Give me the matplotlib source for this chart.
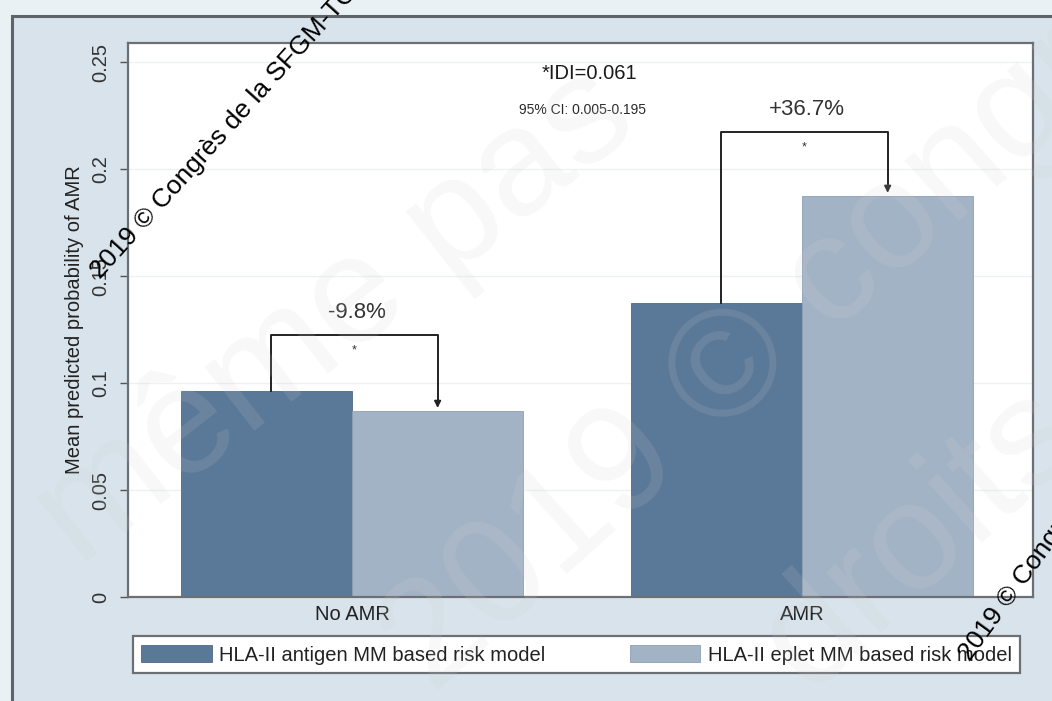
import matplotlib.pyplot as plt
from matplotlib.patches import Rectangle

plt.rcParams['font.family'] = ['Liberation Sans', 'DejaVu Sans']

groups = ['No AMR', 'AMR']
antigen_model = [0.0965, 0.1372]
eplet_change = [-9.8, 36.7]
eplet_model = [a * (1 + c / 100) for a, c in zip(antigen_model, eplet_change)]
series_names = ['HLA-II antigen MM based risk model', 'HLA-II eplet MM based risk model']
bracket_top = [0.1224, 0.2172]
yticks = [0, 0.05, 0.1, 0.15, 0.2, 0.25]
ytick_labels = ['0', '0.05', '0.1', '0.15', '0.2', '0.25']

dark = '#5a7898'
light = '#a3b3c6'
outer_bg = '#eaf1f5'
inner_bg = '#d8e3ec'

fig = plt.figure(figsize=(10.52, 7.01), dpi=100)
fig.patch.set_facecolor(outer_bg)

# graph region frame (Stata style)
fig.patches.append(Rectangle((12 / 1052, -0.02), 1.05, 1 - 16 / 701 + 0.02,
                             transform=fig.transFigure, facecolor=inner_bg,
                             edgecolor='#5f6468', linewidth=2.2, zorder=-5))

ax = fig.add_axes([128 / 1052, 1 - 597 / 701, 905 / 1052, 554 / 701])
ax.set_facecolor('white')
ax.set_ylim(0, 0.2589)
ax.set_xlim(-0.498, 1.513)

for y in yticks[1:]:
    ax.axhline(y, color='#eef0f2', linewidth=1.0, zorder=0)

w = 0.38
xs = range(len(groups))
ax.bar([x - w / 2 for x in xs], antigen_model, width=w, color=dark,
       edgecolor='#4d6986', linewidth=0.6, label=series_names[0], zorder=2)
ax.bar([x + w / 2 for x in xs], eplet_model, width=w, color=light,
       edgecolor='#8d9fb4', linewidth=0.6, label=series_names[1], zorder=2)

# change brackets between the two models
for x, a, e, top, c in zip(xs, antigen_model, eplet_model, bracket_top, eplet_change):
    x0, x1 = x - w / 2 + 0.01, x + w / 2
    ax.plot([x0, x0, x1, x1], [a, top, top, e + 0.004], color='#222222',
            linewidth=1.4, zorder=3)
    ax.annotate('', xy=(x1, e), xytext=(x1, e + 0.006),
                arrowprops=dict(arrowstyle='-|>', color='#222222', lw=1.2,
                                mutation_scale=10), zorder=3)
    ax.text((x0 + x1) / 2, top - 0.007, '*', ha='center', va='center',
            fontsize=9, color='#333333')
    ax.text((x0 + x1) / 2 + 0.005, top + 0.0105, f'{c:+.1f}%',
            ha='center', va='center', fontsize=16, color='#333333')

ax.text(0.527, 0.2448, '*IDI=0.061', ha='center', va='center', fontsize=14.5,
        color='#1a1a1a')
ax.text(0.511, 0.2276, '95% CI: 0.005-0.195', ha='center', va='center',
        fontsize=10, color='#2a2a2a')

ax.set_yticks(yticks)
ax.set_yticklabels(ytick_labels, rotation=90, va='center', fontsize=14.5,
                   color='#333333')
ax.set_xticks(list(xs))
ax.set_xticklabels(groups, fontsize=14.5, color='#222222')
ax.tick_params(axis='x', length=0, pad=6)
ax.tick_params(axis='y', length=6, width=1, color='#555555', pad=7)
ax.set_ylabel('Mean predicted probability of AMR', fontsize=14.5,
              color='#222222', labelpad=5)

for side in ['left', 'top', 'right', 'bottom']:
    ax.spines[side].set_color('#6b7075')
    ax.spines[side].set_linewidth(1.6)

leg = fig.legend(loc='lower left',
                 bbox_to_anchor=(133 / 1052, 1 - 673 / 701, 887 / 1052, 38 / 701),
                 mode='expand', ncol=2, fontsize=14.5, frameon=True, fancybox=False,
                 framealpha=1, handlelength=3.5, handleheight=0.95,
                 handletextpad=0.35, borderpad=0.42, borderaxespad=0,
                 columnspacing=1.0)
leg.get_frame().set_edgecolor('#6b7075')
leg.get_frame().set_linewidth(1.6)
leg.get_frame().set_facecolor('white')
for t in leg.get_texts():
    t.set_color('#222222')

# faint background watermark
wm = dict(transform=fig.transFigure, color='#cfcfcf', alpha=0.15, fontsize=110,
          ha='left', va='baseline', zorder=10)
fig.text(0.01, 0.2, 'même pas', rotation=38, **wm)
fig.text(0.34, 0.02, '2019 © congrès', rotation=42, **wm)
fig.text(0.70, 0.02, 'droits r', rotation=42, **wm)

# black copyright stamps
stamp = dict(transform=fig.transFigure, color='black', fontsize=19,
             ha='left', va='baseline', zorder=11)
fig.text(86 / 1052, 1 - 278 / 701, '2019 © Congrès de la SFGM-TC', rotation=48, **stamp)
fig.text(955 / 1052, 1 - 660 / 701, '2019 © Congrès de la SFGM-TC', rotation=54, **stamp)

fig.savefig('out.png', dpi=100, facecolor=fig.get_facecolor())
